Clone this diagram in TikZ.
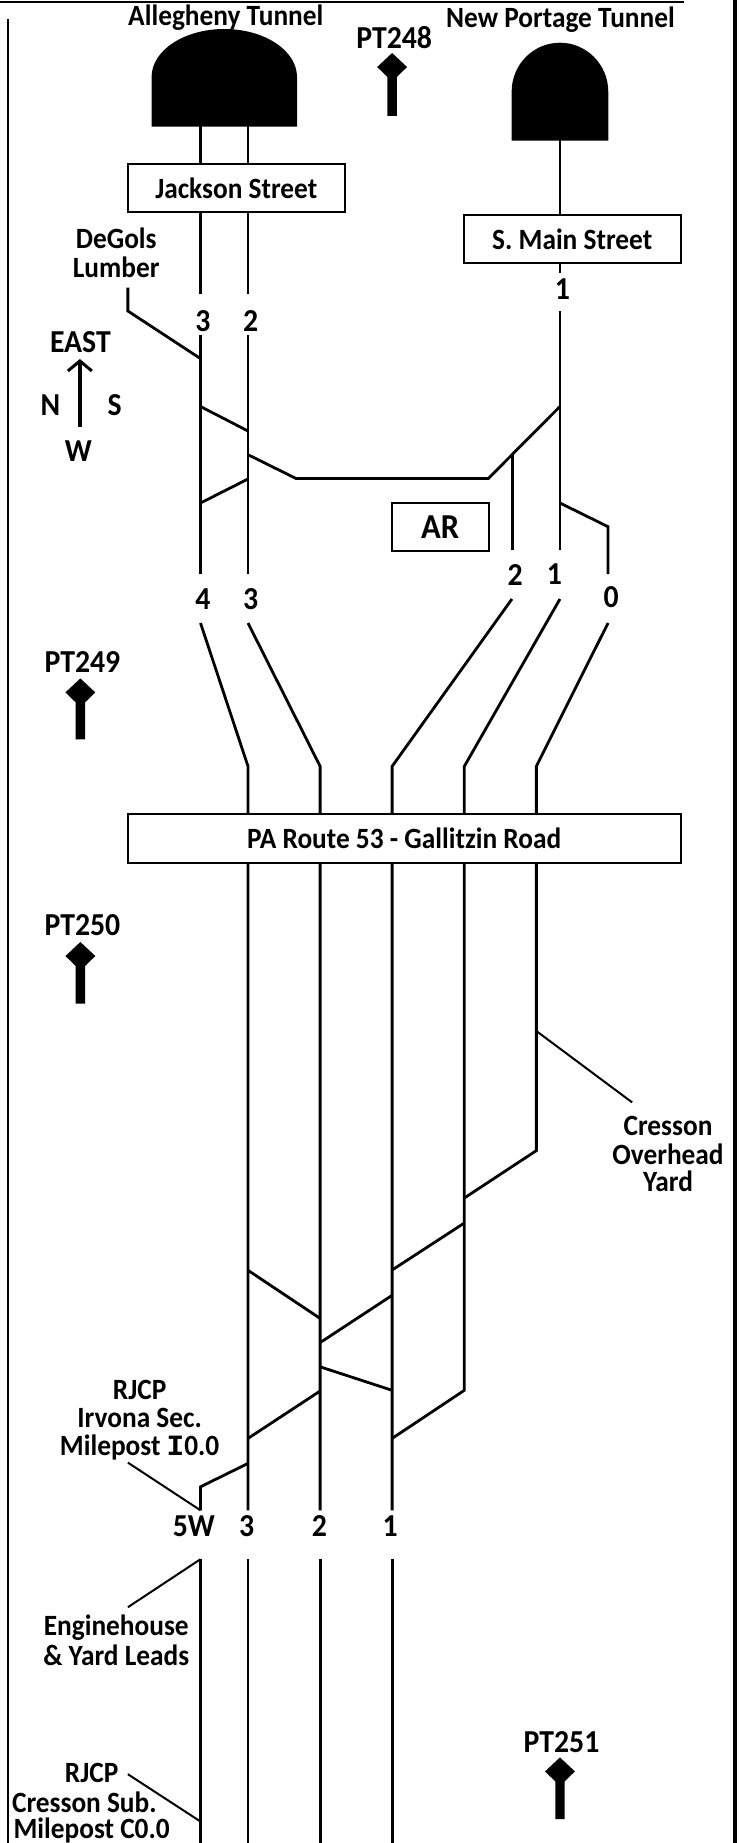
\documentclass[tikz,border=0pt]{standalone}
\usepackage{fontspec}
\usetikzlibrary{arrows.meta}
\setmainfont{Carlito}[FakeStretch=0.93]
\newfontfamily\milefont{Liberation Mono}
\tikzset{
  track/.style={line width=1.4pt},
  leader/.style={line width=1pt},
  roadbox/.style={draw, line width=1pt, fill=white, inner sep=0pt},
  lbl/.style={font=\fontsize{14.7}{16}\selectfont\bfseries, inner sep=0pt, align=center},
  num/.style={font=\fontsize{16}{18}\selectfont\bfseries, inner sep=0pt},
}
% milepost marker: diamond on a post
\newcommand{\postmark}[3]{%
  \fill (#1-15,#2) -- (#1,#2-14) -- (#1+15,#2) -- (#1+4.7,#2+10) -- (#1+4.7,#3) -- (#1-4.7,#3) -- (#1-4.7,#2+10) -- cycle;}
\begin{document}
\begin{tikzpicture}[x=0.498pt,y=-0.5pt]
\useasboundingbox (-0.7,0) rectangle (741.3,1843);
% frame
\draw[line width=1.3pt] (-0.7,2) -- (686,2);
\draw[line width=1pt] (7.3,19) -- (7.3,1843);
\draw[line width=1.8pt] (737.2,0) -- (737.2,1843);
% tunnels
\fill (151.5,126.5) -- (151.5,77) arc[start angle=180, end angle=360, x radius=73, y radius=48] -- (297.5,126.5) -- cycle;
\fill (513,140.5) -- (513,91.7) arc[start angle=180, end angle=360, x radius=48.5, y radius=49] -- (610,140.5) -- cycle;
% tracks, east of the road
\draw[track] (200.6,126) -- (200.6,293.8);
\draw[track] (248.3,126) -- (248.3,293.8);
\draw[track] (561.5,140) -- (561.5,272.8);
\draw[track] (200.6,335.3) -- (200.6,574);
\draw[track] (248.3,335.3) -- (248.3,574);
\draw[track] (561.5,311) -- (561.5,550.4);
\draw[track] (127.7,287.5) -- (127.7,311) -- (200.6,358.6);
\draw[track] (200.6,406.5) -- (248.3,431);
\draw[track] (248.3,454.7) -- (296.6,478.5) -- (489.6,478.5) -- (561.5,406.5);
\draw[track] (200.6,503) -- (248.3,479);
\draw[track] (513.7,454.7) -- (513.7,550.4);
\draw[track] (561.5,503) -- (609.8,526.7) -- (609.8,574);
% tracks through the road
\draw[track] (200.6,623) -- (248.3,766.3) -- (248.3,1510.3);
\draw[track] (248.3,623) -- (320.7,766.3) -- (320.7,1510.3);
\draw[track] (513.3,599) -- (393,766.3) -- (393,1510.3);
\draw[track] (561.5,599) -- (465.5,766.3) -- (465.5,1390.3) -- (393,1438.4);
\draw[track] (609.8,623) -- (537.8,766.3) -- (537.8,1150.6) -- (465.5,1198);
\draw[track] (465.5,1223) -- (393,1270);
\draw[track] (393,1295.3) -- (320.7,1342.6);
\draw[track] (248.3,1270.3) -- (320.7,1318.4);
\draw[track] (320.7,1366.8) -- (393,1390.3);
\draw[track] (320.7,1391) -- (248.3,1438.4);
\draw[track] (248.3,1463.4) -- (200.6,1486.8) -- (200.6,1510.3);
% tracks, west end
\draw[track] (200.6,1559.2) -- (200.6,1843);
\draw[track] (248.3,1559.2) -- (248.3,1843);
\draw[track] (320.7,1559.2) -- (320.7,1843);
\draw[track] (393,1559.2) -- (393,1843);
% leaders
\draw[leader] (537.8,1031) -- (634,1102.4);
\draw[leader] (127.7,1462.6) -- (200.6,1510.3);
\draw[leader] (200.6,1559.2) -- (127.7,1607.2);
\draw[leader] (127.7,1774.2) -- (200.6,1821.5);
% streets
\node[roadbox, minimum width=217.6*0.498pt, minimum height=48.3*0.5pt, lbl] (jackson) at (236.5,187.8) {Jackson Street};
\node[roadbox, minimum width=217.6*0.498pt, minimum height=48.3*0.5pt, lbl] (mainst) at (573.8,238.8) {S. Main Street};
\node[roadbox, minimum width=97.4*0.498pt, minimum height=48*0.5pt, num, font=\fontsize{17.5}{18}\selectfont\bfseries] (ar) at (441.3,527) {AR};
\node[roadbox, minimum width=554.9*0.498pt, minimum height=48.3*0.5pt, lbl] (route) at (405.1,838.6) {PA Route 53 - Gallitzin Road};
% labels
\node[lbl] (allegheny) at (226,17.8) {Allegheny Tunnel};
\node[lbl] (portage) at (562,19.8) {New Portage Tunnel};
\node[lbl] (degols) at (116,238) {DeGols};
\node[lbl] (lumber) at (116,267.7) {Lumber};
\node[num] (east) at (80,342.4) {EAST};
\node[num] (north) at (50,405.3) {N};
\node[num] (south) at (114.5,405.3) {S};
\node[num] (west) at (78,451.5) {W};
\draw[line width=1.7pt,-{Straight Barb[length=5pt,width=12pt,line width=1.5pt]}] (79.5,427) -- (79.5,359);
\node[num] (e3) at (203,321) {3};
\node[num] (e2) at (251,321) {2};
\node[num] (n1) at (564,289.4) {1};
\node[num] (t4) at (203,599) {4};
\node[num] (t3) at (251,599) {3};
\node[num] (t2) at (516.5,574.5) {2};
\node[num] (t1) at (556,574.5) {1};
\node[num] (t0) at (613,597) {0};
\node[num] (pt248) at (395,37.6) {PT248};
\postmark{393}{67}{115.9}
\node[num] (pt249) at (82,661.5) {PT249};
\postmark{80}{692.4}{739.4}
\node[num] (pt250) at (82,925.6) {PT250};
\postmark{80}{956}{1003.5}
\node[num] (pt251) at (563,1742) {PT251};
\postmark{561.5}{1771.4}{1819}
\node[lbl] (cresson) at (670,1126) {Cresson};
\node[lbl] (overhead) at (670,1153.8) {Overhead};
\node[lbl] (yard) at (670,1181.5) {Yard};
\node[lbl] (rjcpa) at (139.5,1389.5) {RJCP};
\node[lbl] (irvona) at (139.5,1418.4) {Irvona Sec.};
\node[lbl] (milea) at (139.5,1447) {Milepost {\milefont I}0.0};
\node[num] (w5) at (194,1526.3) {5W};
\node[num] (w3) at (247,1526.3) {3};
\node[num] (w2) at (320,1526.3) {2};
\node[num] (w1) at (391,1526.3) {1};
\node[lbl] (engine) at (116,1628) {Enginehouse};
\node[lbl] (leads) at (116,1655.3) {\& Yard Leads};
\node[lbl] (rjcpb) at (91.3,1773.4) {RJCP};
\node[lbl] (subname) at (84,1802) {Cresson Sub.};
\node[lbl] (mileb) at (91.3,1830) {Milepost C0.0};
\end{tikzpicture}
\end{document}
